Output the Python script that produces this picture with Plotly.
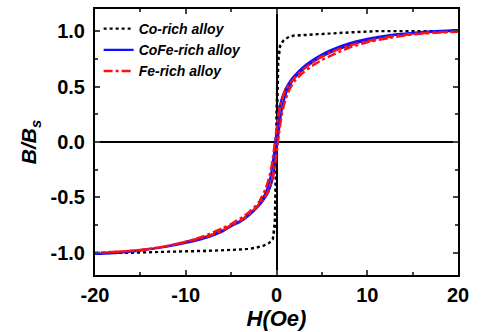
import plotly.graph_objects as go

# Co-rich alloy (ascending branch then descending branch)
co_H_up = [-20, -16, -12, -8, -5, -3, -2, -1.4, -0.8, -0.4, -0.15, 0.0, 0.1, 0.2, 0.4, 0.8, 1.5, 2.5, 4, 6, 8, 11, 15, 20]
co_B_up = [-1.0, -1.0, -0.99, -0.985, -0.975, -0.965, -0.95, -0.935, -0.91, -0.88, -0.75, -0.3, 0.3, 0.72, 0.86, 0.92, 0.955, 0.965, 0.97, 0.98, 0.99, 1.0, 1.0, 1.0]
co_H_dn = [20, 15, 11, 8, 6, 4, 2.5, 1.5, 0.8, 0.4, 0.15, 0.0, -0.1, -0.2, -0.4, -0.8, -1.4, -2, -3, -5, -8, -12, -16, -20]
co_B_dn = [1.0, 1.0, 1.0, 0.99, 0.98, 0.97, 0.965, 0.955, 0.92, 0.88, 0.75, 0.3, -0.3, -0.72, -0.87, -0.91, -0.935, -0.95, -0.965, -0.975, -0.985, -0.99, -1.0, -1.0]

# CoFe-rich alloy
cofe_H_up = [-20, -17.5, -15, -12.5, -10, -8, -6, -5, -4, -3, -2, -1.5, -1, -0.7, -0.45, -0.25, -0.1, 0.05, 0.2, 0.35, 0.5, 0.7, 0.9, 1.2, 1.6, 2, 3, 4, 5, 6, 8, 10, 12.5, 15, 17.5, 20]
cofe_B_up = [-1.01, -1.0, -0.98, -0.95, -0.91, -0.87, -0.81, -0.76, -0.72, -0.66, -0.58, -0.53, -0.47, -0.41, -0.34, -0.25, -0.14, -0.04, 0.06, 0.16, 0.25, 0.34, 0.40, 0.47, 0.53, 0.58, 0.66, 0.72, 0.77, 0.81, 0.87, 0.92, 0.96, 0.98, 0.995, 1.01]
cofe_H_dn = [20, 17.5, 15, 12.5, 10, 8, 6, 5, 4, 3, 2, 1.5, 1, 0.7, 0.45, 0.25, 0.1, -0.05, -0.2, -0.35, -0.5, -0.7, -0.9, -1.2, -1.6, -2, -3, -4, -5, -6, -8, -10, -12.5, -15, -17.5, -20]
cofe_B_dn = [1.01, 1.0, 0.985, 0.965, 0.93, 0.89, 0.83, 0.79, 0.74, 0.68, 0.6, 0.55, 0.48, 0.42, 0.35, 0.26, 0.15, 0.05, -0.05, -0.15, -0.24, -0.33, -0.39, -0.46, -0.52, -0.57, -0.65, -0.71, -0.76, -0.8, -0.86, -0.9, -0.95, -0.975, -0.995, -1.01]

# Fe-rich alloy
fe_H_up = [-20, -17.5, -15, -12.5, -10, -8, -6, -5, -4, -3, -2, -1.5, -1, -0.7, -0.45, -0.2, -0.05, 0.1, 0.25, 0.4, 0.55, 0.75, 0.95, 1.25, 1.6, 2, 3, 4, 5, 6, 8, 10, 12.5, 15, 17.5, 20]
fe_B_up = [-1.0, -0.99, -0.975, -0.945, -0.9, -0.86, -0.8, -0.75, -0.71, -0.65, -0.57, -0.52, -0.46, -0.40, -0.33, -0.24, -0.14, -0.04, 0.06, 0.15, 0.23, 0.31, 0.37, 0.44, 0.50, 0.55, 0.63, 0.69, 0.74, 0.78, 0.85, 0.9, 0.94, 0.97, 0.985, 0.995]
fe_H_dn = [20, 17.5, 15, 12.5, 10, 8, 6, 5, 4, 3, 2, 1.5, 1, 0.7, 0.45, 0.2, 0.05, -0.1, -0.25, -0.4, -0.55, -0.75, -0.95, -1.25, -1.6, -2, -3, -4, -5, -6, -8, -10, -12.5, -15, -17.5, -20]
fe_B_dn = [0.995, 0.99, 0.975, 0.95, 0.91, 0.87, 0.81, 0.77, 0.72, 0.66, 0.58, 0.53, 0.47, 0.41, 0.34, 0.25, 0.15, 0.05, -0.05, -0.14, -0.22, -0.30, -0.36, -0.43, -0.49, -0.55, -0.63, -0.69, -0.74, -0.78, -0.85, -0.9, -0.945, -0.975, -0.99, -1.0]

x_tickvals = [-20, -10, 0, 10, 20]
x_ticktext = ["-20", "-10", "0", "10", "20"]
y_tickvals = [-1.0, -0.5, 0.0, 0.5, 1.0]
y_ticktext = ["-1.0", "-0.5", "0.0", "0.5", "1.0"]

fig = go.Figure()
fig.add_trace(go.Scatter(x=co_H_up + co_H_dn, y=co_B_up + co_B_dn, mode="lines",
                         name="<b><i>Co-rich alloy</i></b>",
                         line=dict(color="black", width=2.2, dash="dot")))
fig.add_trace(go.Scatter(x=cofe_H_up + cofe_H_dn, y=cofe_B_up + cofe_B_dn, mode="lines",
                         name="<b><i>CoFe-rich alloy</i></b>",
                         line=dict(color="#1010ff", width=2.2, shape="spline", smoothing=0.6)))
fig.add_trace(go.Scatter(x=fe_H_up + fe_H_dn, y=fe_B_up + fe_B_dn, mode="lines",
                         name="<b><i>Fe-rich alloy</i></b>",
                         line=dict(color="#ff1010", width=2.4, dash="dashdot", shape="spline", smoothing=0.6)))

axis_font = dict(family="Liberation Sans, Arial", size=20, color="black")
fig.update_layout(
    width=481, height=332,
    margin=dict(l=95, r=23, t=7, b=57),
    paper_bgcolor="white", plot_bgcolor="white",
    font=dict(family="Liberation Sans, Arial", color="black"),
    showlegend=True,
    legend=dict(x=0.01, y=0.985, xanchor="left", yanchor="top",
                bgcolor="rgba(0,0,0,0)", font=dict(size=14, family="Liberation Sans, Arial"),
                tracegroupgap=0, itemwidth=30),
    xaxis=dict(range=[-20, 20], tickvals=x_tickvals, ticktext=["<b>" + t + "</b>" for t in x_ticktext],
               ticks="inside", ticklen=5, tickwidth=1.5,
               minor=dict(ticks="inside", ticklen=3, tickwidth=1.5, dtick=5, tick0=0),
               showline=True, linecolor="black", linewidth=2, mirror="ticks",
               showgrid=False, zeroline=True, zerolinecolor="black", zerolinewidth=1.8,
               tickfont=axis_font, ticklabelstandoff=1,
               title=dict(text="<b><i>H(Oe)</i></b>", font=dict(size=22), standoff=1)),
    yaxis=dict(range=[-1.2, 1.2], tickvals=y_tickvals, ticktext=["<b>" + t + "</b>" for t in y_ticktext],
               ticks="inside", ticklen=5, tickwidth=1.5,
               minor=dict(ticks="inside", ticklen=3, tickwidth=1.5, dtick=0.25, tick0=0),
               showline=True, linecolor="black", linewidth=2, mirror="ticks",
               showgrid=False, zeroline=True, zerolinecolor="black", zerolinewidth=1.8,
               tickfont=axis_font, ticklabelstandoff=4,
               title=dict(text="<b><i>B/B<sub>s</sub></i></b>", font=dict(size=21), standoff=8)),
)
fig.write_html("out.html")
